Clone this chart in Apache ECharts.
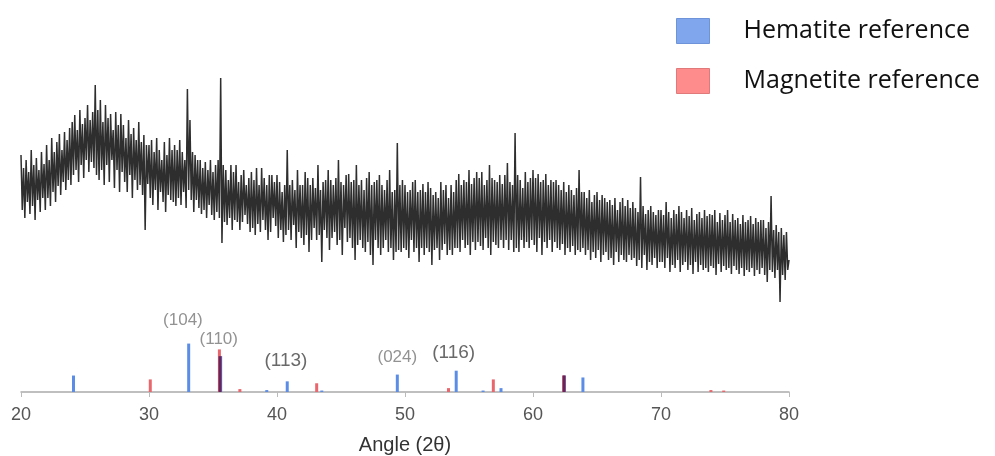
<!DOCTYPE html>
<html>
<head>
<meta charset="utf-8">
<script src="https://cdn.jsdelivr.net/npm/echarts@6/dist/echarts.min.js"></script>
<style>
  html, body { margin: 0; padding: 0; background: #fff; }
  #chart { width: 995px; height: 456px; }
</style>
</head>
<body>
<div id="chart"></div>
<script>
// measured pattern, one value every 0.1 deg from 20 to 80 (arbitrary intensity)
var scanStart = 20, scanStep = 0.1;
var intensity = [
  155, 100, 142, 92, 150, 108, 138, 96, 160, 104, 145, 90, 152, 110, 140, 98, 158, 112, 146, 100,
  165, 112, 150, 104, 172, 118, 158, 108, 168, 124, 176, 115, 160, 128, 178, 120, 170, 130, 182, 125,
  188, 135, 195, 140, 180, 128, 200, 145, 186, 132, 192, 150, 205, 138, 190, 148, 198, 142, 225, 135,
  200, 130, 210, 140, 188, 125, 205, 145, 192, 128, 196, 150, 180, 122, 198, 140, 185, 118, 196, 138,
  185, 128, 172, 118, 190, 135, 176, 112, 182, 130, 170, 120, 188, 125, 168, 115, 175, 80, 165, 126,
  165, 112, 170, 105, 158, 120, 172, 100, 160, 118, 150, 108, 168, 98, 155, 115, 172, 110, 160, 108,
  165, 104, 160, 112, 170, 105, 158, 118, 150, 102, 221, 120, 190, 110, 158, 98, 155, 110, 150, 102,
  150, 96, 142, 100, 148, 92, 140, 105, 150, 95, 138, 90, 145, 98, 150, 92, 232, 67, 145, 88,
  140, 85, 130, 92, 145, 80, 138, 90, 145, 88, 128, 80, 135, 88, 140, 95, 125, 86, 132, 78,
  138, 82, 130, 75, 142, 86, 125, 78, 142, 90, 132, 80, 125, 70, 135, 78, 135, 92, 128, 84,
  135, 72, 128, 80, 118, 68, 125, 75, 160, 80, 125, 70, 130, 85, 120, 62, 140, 78, 125, 72,
  125, 65, 138, 75, 132, 58, 125, 70, 132, 82, 122, 70, 145, 75, 120, 48, 128, 80, 130, 72,
  140, 60, 130, 72, 125, 78, 132, 65, 150, 70, 128, 55, 125, 82, 135, 68, 136, 72, 128, 62,
  130, 50, 145, 65, 125, 70, 130, 62, 120, 58, 132, 68, 138, 55, 125, 45, 128, 70, 130, 62,
  135, 55, 125, 62, 120, 70, 130, 58, 140, 62, 118, 50, 120, 58, 167, 60, 125, 58, 130, 62,
  125, 60, 118, 52, 120, 70, 128, 58, 130, 62, 118, 48, 120, 62, 126, 55, 118, 62, 128, 58,
  122, 45, 115, 60, 118, 62, 112, 50, 128, 60, 120, 66, 125, 55, 112, 60, 125, 55, 118, 62,
  130, 62, 136, 58, 125, 70, 130, 62, 128, 65, 140, 55, 126, 68, 132, 60, 138, 68, 132, 64,
  138, 60, 125, 72, 130, 62, 145, 55, 132, 68, 130, 65, 128, 62, 135, 70, 126, 62, 135, 70,
  147, 60, 128, 70, 125, 58, 177, 62, 135, 58, 130, 70, 122, 62, 138, 68, 128, 62, 132, 70,
  140, 65, 132, 58, 136, 72, 128, 55, 130, 68, 136, 62, 125, 70, 130, 58, 128, 68, 130, 62,
  125, 60, 120, 66, 128, 55, 118, 62, 125, 58, 120, 64, 115, 55, 122, 60, 140, 58, 118, 62,
  118, 55, 112, 60, 120, 50, 108, 58, 115, 52, 118, 60, 110, 48, 115, 55, 112, 58, 108, 50,
  110, 52, 105, 45, 112, 58, 100, 48, 108, 55, 112, 50, 104, 48, 110, 55, 102, 50, 108, 52,
  102, 44, 98, 50, 133, 42, 104, 55, 96, 40, 100, 48, 104, 45, 98, 52, 95, 42, 100, 48,
  100, 48, 95, 42, 108, 52, 98, 38, 92, 45, 100, 42, 96, 50, 104, 38, 98, 45, 92, 48,
  100, 40, 94, 45, 102, 36, 90, 48, 96, 38, 98, 45, 92, 40, 100, 42, 94, 38, 96, 44,
  95, 42, 100, 35, 88, 46, 97, 38, 90, 44, 95, 40, 100, 42, 88, 36, 96, 44, 90, 40,
  92, 36, 86, 42, 95, 34, 88, 40, 90, 38, 94, 42, 86, 34, 92, 40, 88, 36, 90, 42,
  90, 35, 82, 28, 88, 40, 114, 38, 80, 32, 85, 40, 78, 8, 82, 35, 75, 30, 78, 40,
  50
];

// reference lines [angle, relative height]
var hematite = [
  [24.1, 17], [33.1, 50], [35.6, 37], [39.2, 2], [40.8, 11], [43.5, 1.5],
  [49.4, 18], [54.0, 22], [56.1, 1.5], [57.5, 4], [62.45, 17], [63.9, 15]
];
var magnetite = [
  [30.1, 13], [35.5, 44], [37.1, 3], [43.1, 9], [53.4, 4], [56.9, 13],
  [62.4, 17], [73.9, 2], [74.9, 1.5]
];

// miller index labels [angle, height of label, text]
var peakLabels = [
  [32.65, 74, '(104)'], [35.45, 54, '(110)'], [40.7, 32, '(113)'],
  [49.4, 36, '(024)'], [53.8, 41, '(116)']
];

var xTicks = [20, 30, 40, 50, 60, 70, 80];

var pattern = intensity.map(function (v, i) {
  return [+(scanStart + i * scanStep).toFixed(1), v];
});

var overlapColor = '#6a2558';

function refRect(api, x, h, color) {
  var base = api.coord([x, 0]);
  var top = api.coord([x, h]);
  return {
    type: 'rect',
    shape: { x: base[0] - 1.5, y: top[1], width: 3, height: base[1] - top[1] },
    style: { fill: color }
  };
}

function hemLine(params, api) {
  return refRect(api, api.value(0), api.value(1), api.visual('color'));
}

// magnetite drawn on top; where it coincides with a hematite line the shared part looks purple
function magLine(params, api) {
  var x = api.value(0), h = api.value(1);
  var kids = [refRect(api, x, h, api.visual('color'))];
  hematite.forEach(function (d) {
    if (Math.abs(d[0] - x) < 0.15) {
      kids.push(refRect(api, (d[0] + x) / 2, Math.min(d[1], h), overlapColor));
    }
  });
  return { type: 'group', children: kids };
}

var chart = echarts.init(document.getElementById('chart'));
chart.setOption({
  backgroundColor: '#fff',
  animation: false,
  legend: {
    orient: 'vertical',
    left: 676,
    top: 18,
    padding: 0,
    itemWidth: 33,
    itemHeight: 25,
    itemGap: 24,
    icon: 'rect',
    textStyle: { fontFamily: 'Open Sans', fontSize: 25, color: '#111', padding: [0, 0, 0, 29] },
    data: [
      { name: 'Hematite reference', itemStyle: { color: '#80a6ee', borderColor: '#6f93d8', borderWidth: 1 } },
      { name: 'Magnetite reference', itemStyle: { color: '#ff8c8c', borderColor: '#e07a7a', borderWidth: 1 } }
    ]
  },
  grid: [
    { left: 21, right: 206, top: 40, height: 270 },
    { left: 21, right: 206, top: 300, bottom: 61 }
  ],
  xAxis: [
    { gridIndex: 0, type: 'value', min: 20, max: 80, show: false },
    {
      gridIndex: 1, type: 'value', min: 20, max: 80, interval: 10,
      name: 'Angle (2\u03b8)', nameLocation: 'middle', nameGap: 43,
      nameTextStyle: { fontFamily: 'Liberation Sans', fontSize: 20, color: '#333' },
      axisLine: { lineStyle: { color: '#aaa', width: 1.5 } },
      axisTick: { show: true, length: 5, lineStyle: { color: '#bbb' } },
      splitLine: { show: false },
      axisLabel: {
        fontFamily: 'Liberation Sans', fontSize: 18, color: '#555', margin: 14,
        customValues: xTicks
      }
    }
  ],
  yAxis: [
    { gridIndex: 0, type: 'value', min: 0, max: 270, show: false },
    { gridIndex: 1, type: 'value', min: 0, max: 95, show: false }
  ],
  series: [
    {
      name: 'pattern', type: 'line', xAxisIndex: 0, yAxisIndex: 0,
      data: pattern, showSymbol: false, sampling: 'none',
      lineStyle: { color: '#2e2e2e', width: 1.5 }
    },
    {
      name: 'Hematite reference', type: 'custom', xAxisIndex: 1, yAxisIndex: 1,
      itemStyle: { color: '#5b8de6' }, renderItem: hemLine,
      encode: { x: 0, y: 1 }, data: hematite
    },
    {
      name: 'Magnetite reference', type: 'custom', xAxisIndex: 1, yAxisIndex: 1,
      itemStyle: { color: '#e8666c' }, renderItem: magLine,
      encode: { x: 0, y: 1 }, data: magnetite
    },
    {
      name: 'labels', type: 'scatter', xAxisIndex: 1, yAxisIndex: 1,
      symbolSize: 0, silent: true,
      data: peakLabels.map(function (p) {
        var big = p[2] === '(113)' || p[2] === '(116)';
        return {
          value: [p[0], p[1]],
          label: {
            show: true, position: 'inside', formatter: p[2],
            fontFamily: 'Liberation Sans', fontSize: big ? 19 : 17,
            color: big ? '#444' : '#777'
          }
        };
      })
    }
  ]
});
</script>
</body>
</html>
